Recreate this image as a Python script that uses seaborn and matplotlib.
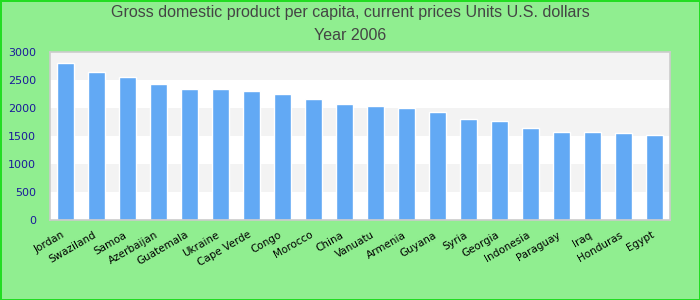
import matplotlib
matplotlib.use("Agg")
import matplotlib.pyplot as plt
import matplotlib.transforms as mtransforms
import seaborn as sns
import pandas as pd

countries = ["Jordan", "Swaziland", "Samoa", "Azerbaijan", "Guatemala", "Ukraine",
             "Cape Verde", "Congo", "Morocco", "China", "Vanuatu", "Armenia", "Guyana",
             "Syria", "Georgia", "Indonesia", "Paraguay", "Iraq", "Honduras", "Egypt"]
gdp = [2790, 2635, 2546, 2421, 2332, 2332, 2297, 2243, 2154, 2065, 2030, 1994, 1923,
       1798, 1762, 1638, 1567, 1567, 1549, 1513]
yticks = [0, 500, 1000, 1500, 2000, 2500, 3000]

df = pd.DataFrame({"country": countries, "gdp": gdp})

sns.set_theme(style="white")
plt.rcParams['font.family'] = ['DejaVu Sans']

fig = plt.figure(figsize=(7, 3), dpi=100)
fig.patch.set_facecolor("#90EE90")
fig.patch.set_edgecolor("#22dd22")
fig.patch.set_linewidth(2)
ax = fig.add_axes([50/700, 1 - 220/300, 620/700, 168.5/300])
ax.set_facecolor("white")

for i in range(0, len(yticks) - 1):
    if i % 2 == 1:
        ax.axhspan(yticks[i], yticks[i + 1], color="#f3f3f3", zorder=0, lw=0)

sns.barplot(data=df, x="country", y="gdp", color="#62a9f4", saturation=1,
            width=0.55, ax=ax, zorder=2)

ax.set_ylim(0, 3000)
ax.set_xlim(-0.5, len(countries) - 0.5)
ax.set_yticks(yticks)
ax.set_yticklabels([str(v) for v in yticks], color="#1a1a9a", fontsize=8)
ax.set_xticks(range(len(countries)))
ax.set_xticklabels(countries, rotation=30, ha="right", rotation_mode="anchor",
                   fontsize=7.5, color="black")
ax.tick_params(axis="x", length=0, pad=7)
ax.tick_params(axis="y", length=0, pad=10)
offset = mtransforms.ScaledTranslation(-4/100, 0, fig.dpi_scale_trans)
for lbl in ax.get_xticklabels():
    lbl.set_transform(lbl.get_transform() + offset)
ax.set_xlabel("")
ax.set_ylabel("")
for s in ax.spines.values():
    s.set_color("#cccccc")
    s.set_linewidth(1.2)
ax.grid(False)

fig.text(0.5, 1 - 13/300, "Gross domestic product per capita, current prices Units U.S. dollars",
         ha="center", va="center", fontsize=11.5, color="#444444", family="Liberation Sans")
fig.text(0.5, 1 - 36/300, "Year 2006", ha="center", va="center", fontsize=11.5,
         color="#444444", family="Liberation Sans")

fig.savefig("out.png", dpi=100, facecolor=fig.get_facecolor(), edgecolor=fig.get_edgecolor())
